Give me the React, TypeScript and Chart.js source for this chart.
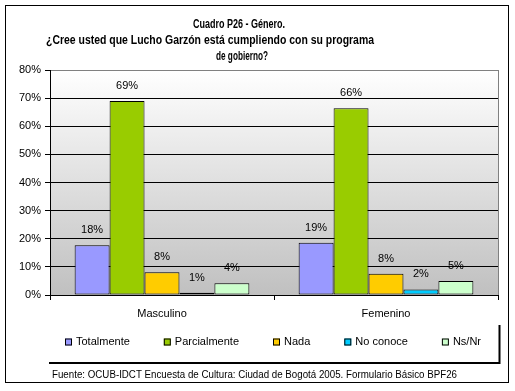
import React, { useEffect, useRef } from 'react';
import { Chart, registerables } from 'chart.js';

Chart.register(...registerables);

const categories = ['Masculino', 'Femenino'];
const seriesNames = ['Totalmente', 'Parcialmente', 'Nada', 'No conoce', 'Ns/Nr'];
const totalmente = [17.7, 18.6];
const parcialmente = [69.0, 66.4];
const nada = [8.1, 7.6];
const noConoce = [0.8, 2.0];
const nsNr = [4.2, 5.0];
const seriesColors = ['#9999FF', '#99CC00', '#FFCC00', '#00CCFF', '#CCFFCC'];
const yMin = 0;
const yMax = 80;
const yStep = 10;
const titleLines = [
  'Cuadro P26 - Género.',
  '¿Cree usted que Lucho Garzón está cumpliendo con su programa',
  'de gobierno?',
];
const footerText = 'Fuente: OCUB-IDCT Encuesta de Cultura: Ciudad de Bogotá 2005. Formulario Básico BPF26';

const FONT = "'Liberation Sans', Arial, sans-serif";

const decor = {
  id: 'decor',
  beforeDraw(chart: any) {
    const { ctx, chartArea: a } = chart;
    ctx.save();
    ctx.fillStyle = '#ffffff';
    ctx.fillRect(0, 0, chart.width, chart.height);
    const g = ctx.createLinearGradient(0, a.top, 0, a.bottom);
    g.addColorStop(0, '#ffffff');
    g.addColorStop(1, '#c0c0c0');
    ctx.fillStyle = g;
    ctx.fillRect(a.left, a.top, a.right - a.left, a.bottom - a.top);
    ctx.restore();
  },
  beforeDatasetsDraw(chart: any) {
    const { ctx, chartArea: a } = chart;
    ctx.save();
    ctx.strokeStyle = '#808080';
    ctx.lineWidth = 1;
    ctx.beginPath();
    ctx.moveTo(Math.round(a.right) + 0.5, a.top);
    ctx.lineTo(Math.round(a.right) + 0.5, a.bottom);
    ctx.stroke();
    ctx.restore();
  },
  afterDatasetsDraw(chart: any) {
    const { ctx } = chart;
    ctx.save();
    ctx.fillStyle = '#000';
    ctx.font = `11px ${FONT}`;
    ctx.textAlign = 'center';
    ctx.textBaseline = 'middle';
    chart.data.datasets.forEach((ds: any, i: number) => {
      const meta = chart.getDatasetMeta(i);
      meta.data.forEach((bar: any, j: number) => {
        const v = ds.data[j];
        ctx.fillText(Math.round(v) + '%', bar.x, bar.y - 15);
      });
    });
    ctx.restore();
  },
  afterDraw(chart: any) {
    const { ctx } = chart;
    ctx.save();
    // title
    ctx.fillStyle = '#000';
    ctx.font = `bold 12px ${FONT}`;
    ctx.textAlign = 'center';
    ctx.textBaseline = 'middle';
    const tPos = [
      [239, 25, 92],
      [210, 41, 328],
      [242, 57, 52],
    ];
    titleLines.forEach((t, i) => {
      ctx.fillText(t, tPos[i][0], tPos[i][1], tPos[i][2]);
    });
    // legend
    ctx.font = `11px ${FONT}`;
    ctx.textAlign = 'left';
    let x = 65;
    const ly = 342;
    chart.data.datasets.forEach((ds: any) => {
      ctx.fillStyle = ds.backgroundColor;
      ctx.fillRect(x, ly - 3.5, 7, 7);
      ctx.strokeStyle = '#000';
      ctx.lineWidth = 1;
      ctx.strokeRect(x + 0.5, ly - 3.5 + 0.5, 6, 6);
      ctx.fillStyle = '#000';
      ctx.fillText(ds.label, x + 11, ly);
      x += 11 + ctx.measureText(ds.label).width + 34;
    });
    // frames
    ctx.strokeStyle = '#000';
    ctx.lineWidth = 1;
    ctx.strokeRect(5.5, 5.5, 503, 377);
    ctx.lineWidth = 2;
    ctx.beginPath();
    ctx.moveTo(49, 363);
    ctx.lineTo(500.5, 363);
    ctx.moveTo(499.5, 325);
    ctx.lineTo(499.5, 364);
    ctx.stroke();
    // footer
    ctx.fillStyle = '#000';
    ctx.font = `10px ${FONT}`;
    ctx.textAlign = 'left';
    ctx.fillText(footerText, 52, 375, 405);
    ctx.restore();
  },
};

export default function App() {
  const ref = useRef<HTMLCanvasElement>(null);
  useEffect(() => {
    const series = [totalmente, parcialmente, nada, noConoce, nsNr];
    const chart = new Chart(ref.current!, {
      type: 'bar',
      data: {
        labels: categories,
        datasets: series.map((d, i) => ({
          label: seriesNames[i],
          data: d,
          backgroundColor: seriesColors[i],
          borderColor: '#000000',
          borderWidth: 1,
          borderSkipped: false,
          categoryPercentage: 0.78,
          barPercentage: 1,
        })),
      },
      options: {
        responsive: false,
        animation: false,
        devicePixelRatio: 1,
        layout: { padding: { left: 5, top: 70, right: 17, bottom: 0 } },
        plugins: {
          legend: { display: false },
          title: { display: false },
          tooltip: { enabled: false },
        },
        scales: {
          x: {
            afterFit: (s: any) => { s.height = 96; },
            grid: {
              offset: true,
              drawOnChartArea: false,
              drawTicks: true,
              tickLength: 5,
              color: '#000',
              tickColor: '#000',
            },
            border: { display: true, color: '#000' },
            ticks: { color: '#000', padding: 7, font: { family: FONT, size: 11 } },
          },
          y: {
            min: yMin,
            max: yMax,
            afterFit: (s: any) => { s.width = 45; },
            grid: {
              drawTicks: true,
              tickLength: 5,
              color: (c: any) => (c.tick && c.tick.value === yMax ? '#808080' : '#000000'),
              tickColor: '#000',
            },
            border: { display: true, color: '#000' },
            ticks: {
              stepSize: yStep,
              padding: 4,
              color: '#000',
              font: { family: FONT, size: 11 },
              callback: (v: any) => v + '%',
            },
          },
        },
      },
      plugins: [decor],
    });
    return () => chart.destroy();
  }, []);
  return (
    <div style={{ position: 'fixed', left: 0, top: 0, width: 515, height: 391, background: '#fff' }}>
      <canvas ref={ref} width={515} height={391} style={{ display: 'block' }} />
    </div>
  );
}
